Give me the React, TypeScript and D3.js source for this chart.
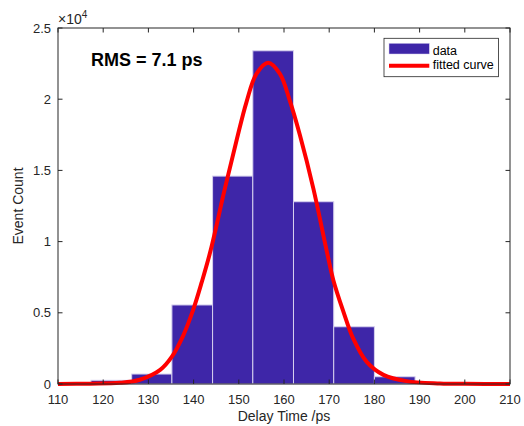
import React from "react";
import * as d3 from "d3";

// Histogram bins (Delay Time, ps) and counts
const binEdges = [117.3, 126.3, 135.2, 144.2, 153.1, 162.1, 171.0, 180.0, 189.0];
const binCounts = [260, 700, 5550, 14600, 23400, 12800, 4020, 510];

// Fitted curve points
const curveX = [110, 117, 123.7, 128.1, 132.6, 135.2, 137.7, 139.9, 141.8, 143.8, 146.9, 149.5, 151.7, 153.9, 156.5, 159.1, 161.3, 163.5, 166.5, 169.4, 170.9, 173.1, 175.3, 178.3, 182.0, 187.1, 194.5, 200, 210];
const curveY = [5, 25, 80, 300, 990, 1920, 3400, 5200, 7150, 9420, 13700, 17100, 19800, 21780, 22560, 21780, 19880, 17500, 13720, 9420, 7310, 5120, 3200, 1550, 640, 200, 40, 10, 0];

const xTicks = [110, 120, 130, 140, 150, 160, 170, 180, 190, 200, 210];
const yTicks = [0, 5000, 10000, 15000, 20000, 25000];
const yTickLabels = ["0", "0.5", "1", "1.5", "2", "2.5"];

const W = 524, H = 426;
const M = { left: 58, right: 510, top: 28, bottom: 384 };
const FONT = "'Liberation Sans', Arial, Helvetica, sans-serif";
const AX = "#262626";

export default function App() {
  const x = d3.scaleLinear().domain([110, 210]).range([M.left, M.right]);
  const y = d3.scaleLinear().domain([0, 25000]).range([M.bottom, M.top]);
  const line = d3
    .line<number>()
    .x((_, i) => x(curveX[i]))
    .y((d) => y(d))
    .curve(d3.curveCatmullRom.alpha(0.5));
  const tl = 4.5;
  return (
    <svg width={W} height={H} style={{ position: "absolute", left: 0, top: 0, background: "#fff" }} fontFamily={FONT}>
      <rect x={0} y={0} width={W} height={H} fill="#fff" />
      {/* bars */}
      {binCounts.map((c, i) => (
        <rect
          key={i}
          x={x(binEdges[i])}
          y={y(c)}
          width={x(binEdges[i + 1]) - x(binEdges[i])}
          height={y(0) - y(c)}
          fill="#3e26a8"
          stroke="#d6d0ee"
          strokeWidth={1}
        />
      ))}
      {/* curve */}
      <path d={line(curveY) || ""} fill="none" stroke="#ff0000" strokeWidth={4} strokeLinejoin="round" />
      {/* axes box */}
      <rect x={M.left} y={M.top} width={M.right - M.left} height={M.bottom - M.top} fill="none" stroke={AX} strokeWidth={1} />
      {xTicks.map((t) => (
        <g key={"x" + t}>
          <line x1={x(t)} x2={x(t)} y1={M.bottom} y2={M.bottom - tl} stroke={AX} />
          <line x1={x(t)} x2={x(t)} y1={M.top} y2={M.top + tl} stroke={AX} />
          <text x={x(t)} y={404} textAnchor="middle" fontSize={13} fill={AX}>{t}</text>
        </g>
      ))}
      {yTicks.map((t, i) => (
        <g key={"y" + t}>
          <line x1={M.left} x2={M.left + tl} y1={y(t)} y2={y(t)} stroke={AX} />
          <line x1={M.right} x2={M.right - tl} y1={y(t)} y2={y(t)} stroke={AX} />
          <text x={51} y={y(t) + 4.6} textAnchor="end" fontSize={13} fill={AX}>{yTickLabels[i]}</text>
        </g>
      ))}
      {/* exponent */}
      <text x={58} y={24} fontSize={14} fill={AX}>
        ×10
        <tspan dy={-6.5} fontSize={10}>4</tspan>
      </text>
      {/* axis labels */}
      <text x={(M.left + M.right) / 2} y={421} textAnchor="middle" fontSize={14} fill={AX}>Delay Time /ps</text>
      <text transform={`translate(23, ${(M.top + M.bottom) / 2}) rotate(-90)`} textAnchor="middle" fontSize={14} fill={AX}>Event Count</text>
      {/* annotation */}
      <text x={91} y={66} fontSize={18} fontWeight="bold" fill="#000">RMS = 7.1 ps</text>
      {/* legend */}
      <rect x={384} y={38.3} width={114.5} height={38.4} fill="#fff" stroke={AX} strokeWidth={0.8} />
      <rect x={389} y={43.3} width={40.3} height={10.7} fill="#3e26a8" stroke="#d6d0ee" strokeWidth={0.5} />
      <line x1={389} x2={429.3} y1={65.7} y2={65.7} stroke="#ff0000" strokeWidth={4} />
      <text x={432.7} y={55} fontSize={12.5} fill="#000">data</text>
      <text x={432.7} y={69} fontSize={12.5} fill="#000">fitted curve</text>
    </svg>
  );
}
